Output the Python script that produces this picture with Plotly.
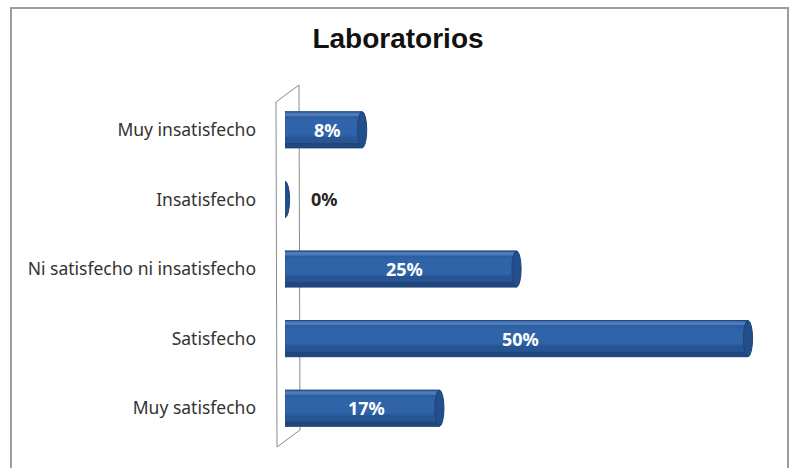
import plotly.graph_objects as go

categories = ["Muy insatisfecho", "Insatisfecho", "Ni satisfecho ni insatisfecho", "Satisfecho", "Muy satisfecho"]
values = [8.33, 0.0, 25.0, 50.0, 16.67]
labels = ["8%", "0%", "25%", "50%", "17%"]
title_text = "Laboratorios"

ypos = list(range(len(categories)))

W, H = 796, 468
L, R, T, B = 285, 11, 95, 25
pw, ph = W - L - R, H - T - B

def px2paper(x, y):
    return (x - L) / pw, (H - B - y) / ph

fig = go.Figure()

BAR_W = 0.52
BASE = "#2C5EA2"
# base cylinder body
fig.add_trace(go.Bar(
    x=values, y=ypos, orientation="h", width=BAR_W,
    marker=dict(color=BASE, line=dict(color="#22497F", width=1)),
    hoverinfo="skip", showlegend=False,
))
# soft highlight near top
fig.add_trace(go.Bar(
    x=values, y=ypos, orientation="h", width=0.05, offset=-0.245,
    marker=dict(color="#6B93C9", line=dict(width=0)), opacity=0.55,
    hoverinfo="skip", showlegend=False,
))
fig.add_trace(go.Bar(
    x=values, y=ypos, orientation="h", width=0.22, offset=-0.15,
    marker=dict(color="#3468AE", line=dict(width=0)), opacity=0.6,
    hoverinfo="skip", showlegend=False,
))
# darker lower part
fig.add_trace(go.Bar(
    x=values, y=ypos, orientation="h", width=0.10, offset=0.10,
    marker=dict(color="#26528E", line=dict(width=0)), opacity=0.7,
    hoverinfo="skip", showlegend=False,
))
fig.add_trace(go.Bar(
    x=values, y=ypos, orientation="h", width=0.07, offset=0.19,
    marker=dict(color="#1D4275", line=dict(width=0)), opacity=0.8,
    hoverinfo="skip", showlegend=False,
))

shapes = []
# frame
x0p, y0p = px2paper(11, 8)
x1p, y1p = px2paper(788, 480)
shapes.append(dict(type="rect", xref="paper", yref="paper", x0=x0p, x1=x1p, y0=y1p, y1=y0p,
                   line=dict(color="#9C9C9C", width=2), fillcolor="rgba(0,0,0,0)", layer="below"))
# 3D wall
pts = [px2paper(276, 102), px2paper(299, 85), px2paper(300, 430), px2paper(277, 447)]
path = "M " + " L ".join(f"{a:.4f},{b:.4f}" for a, b in pts) + " Z"
shapes.append(dict(type="path", xref="paper", yref="paper", path=path,
                   line=dict(color="#8A8A8A", width=1), fillcolor="rgba(0,0,0,0)", layer="below"))

cap = 0.5
for v, y in zip(values, ypos):
    hw = BAR_W / 2
    if v > 0:
        shapes.append(dict(type="circle", xref="x", yref="y", x0=-cap, x1=cap, y0=y - hw, y1=y + hw,
                           fillcolor=BASE, line=dict(color="#22497F", width=1), layer="below"))
    shapes.append(dict(type="circle", xref="x", yref="y", x0=v - cap, x1=v + cap, y0=y - hw, y1=y + hw,
                       fillcolor="#234E8C", line=dict(color="#1E447A", width=1), layer="above"))

annotations = []
for v, y, t in zip(values, ypos, labels):
    if v > 0:
        annotations.append(dict(x=v / 2, y=y, xref="x", yref="y", text=t, showarrow=False, xshift=4,
                                font=dict(family="Noto Sans", size=18, color="white", weight="bold")))
    else:
        annotations.append(dict(x=v, y=y, xref="x", yref="y", text=t, showarrow=False, xanchor="left",
                                xshift=24, font=dict(family="Noto Sans", size=18, color="#262626", weight="bold")))

fig.update_layout(
    width=W, height=H,
    margin=dict(l=L, r=R, t=T, b=B),
    paper_bgcolor="white", plot_bgcolor="rgba(0,0,0,0)",
    barmode="overlay",
    title=dict(text=title_text, x=0.5, xanchor="center", y=1 - 38 / H, yanchor="middle", yref="container",
               font=dict(family="Liberation Sans", size=28, color="#111", weight="bold")),
    shapes=shapes, annotations=annotations,
    xaxis=dict(range=[0, 54], visible=False, showgrid=False, zeroline=False),
    yaxis=dict(range=[4.5, -0.5], tickvals=ypos, ticktext=categories, showgrid=False, zeroline=False,
               showline=False, ticks="", ticklabelstandoff=28,
               tickfont=dict(family="Noto Sans", size=17.5, color="#333")),
)

fig.write_html("out.html", config={"displayModeBar": False},
               post_script="document.body.style.margin='0';document.body.style.overflow='hidden';")
